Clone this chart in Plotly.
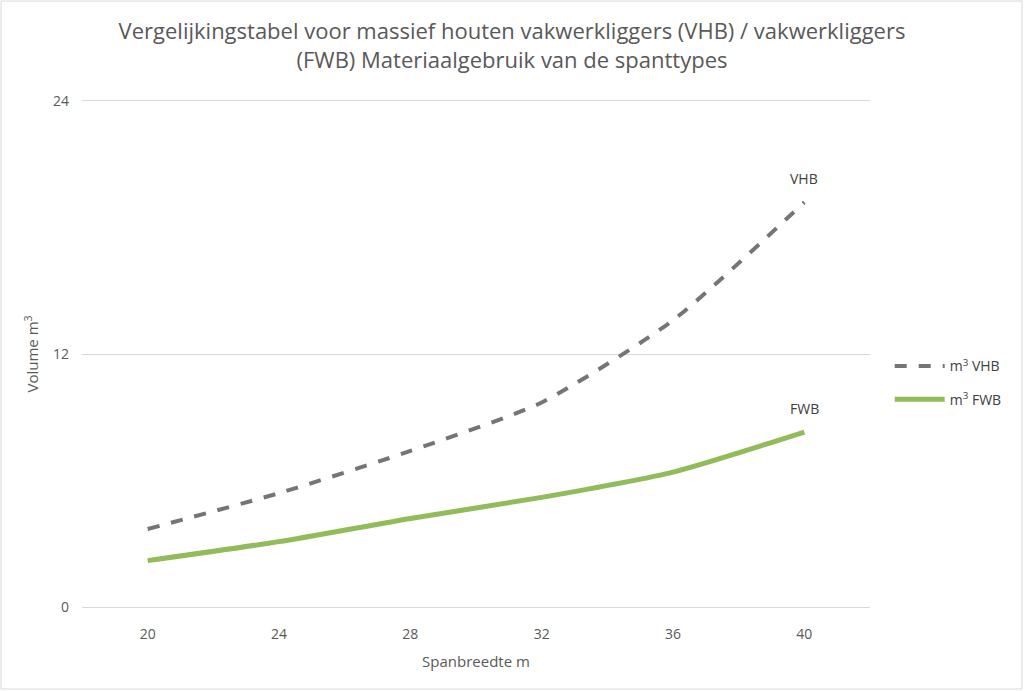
import plotly.graph_objects as go

spans = [20, 24, 28, 32, 36, 40]
vhb = [3.7, 5.4, 7.4, 9.7, 13.6, 19.2]
fwb = [2.2, 3.1, 4.2, 5.2, 6.4, 8.3]
y_ticks = [0, 12, 24]

fig = go.Figure()
fig.add_trace(go.Scatter(x=spans, y=vhb, mode="lines", name="m<sup>3</sup> VHB", legendgroup="vhb",
                         line=dict(color="#757575", width=4, dash="dash", shape="spline", smoothing=0.6)))
fig.add_trace(go.Scatter(x=spans, y=fwb, mode="lines", name="m<sup>3</sup> FWB", legendgroup="fwb",
                         line=dict(color="#92BB5A", width=5, shape="spline", smoothing=0.6)))

fig.add_annotation(x=spans[-1], y=vhb[-1], text="VHB", showarrow=False, yshift=24,
                   font=dict(size=14, color="#404040"))
fig.add_annotation(x=spans[-1], y=fwb[-1], text="FWB", showarrow=False, yshift=24,
                   font=dict(size=14, color="#404040"))

L, R, T, B = 82, 154, 101, 84
W, H = 1024, 691
pw, ph = W - L - R, H - T - B
fig.add_shape(type="rect", xref="paper", yref="paper",
              x0=(1 - L) / pw, x1=(W - 2 - L) / pw,
              y0=-(B - 2) / ph, y1=1 + (T - 1) / ph,
              line=dict(color="#D9D9D9", width=1))

fig.update_layout(
    width=W, height=H,
    margin=dict(l=L, r=R, t=T, b=B, autoexpand=False),
    paper_bgcolor="white", plot_bgcolor="white",
    font=dict(family="Open Sans", color="#595959", size=14),
    title=dict(text="Vergelijkingstabel voor massief houten vakwerkliggers (VHB) / vakwerkliggers<br>(FWB) Materiaalgebruik van de spanttypes",
               x=0.5, xref="container", xanchor="center", y=0.943, yanchor="top",
               font=dict(size=22, color="#595959")),
    legend=dict(x=1.025, y=0.443, xanchor="left", yanchor="middle",
                font=dict(size=14, color="#404040"), tracegroupgap=12, itemwidth=50),
    xaxis=dict(range=[18, 42], tickvals=spans, showgrid=False, zeroline=False,
               showline=True, mirror=True, linecolor="#D9D9D9", linewidth=1,
               ticks="", ticklabelstandoff=14,
               title=dict(text="Spanbreedte m", font=dict(size=15, color="#595959"), standoff=14)),
    yaxis=dict(range=[0, 24], tickvals=y_ticks, showgrid=True, gridcolor="#D9D9D9",
               zeroline=False, ticks="", showline=False, ticklabelstandoff=12,
               title=dict(text="Volume m<sup>3</sup>", font=dict(size=15, color="#595959"), standoff=10)),
)
fig.write_html("out.html", config={"displayModeBar": False},
               post_script="document.body.style.margin='0';")
